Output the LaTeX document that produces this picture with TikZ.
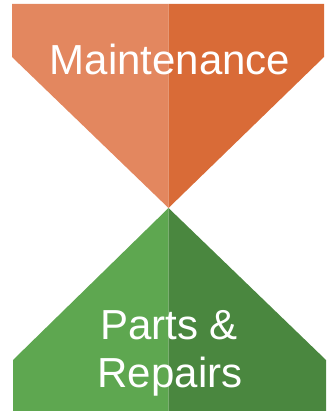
\documentclass[tikz,border=0pt]{standalone}
\usepackage{fontspec}
\setmainfont{Liberation Sans}
\definecolor{orangelight}{HTML}{E3875F}
\definecolor{orangedark}{HTML}{D96B37}
\definecolor{greenlight}{HTML}{5EA750}
\definecolor{greendark}{HTML}{4A873F}

\begin{document}
\begin{tikzpicture}[x=1pt, y=-1pt,
    word/.style={text=white, font=\fontsize{42}{48}\selectfont, anchor=base, inner sep=0pt}]
  \useasboundingbox (0,0) rectangle (327,411);
  % top funnel
  \coordinate (apex) at (168.5,208);
  \fill[orangelight] (12,4) -- (168.5,4) -- (apex) -- (12,57) -- cycle;
  \fill[orangedark] (168.5,4) -- (324,4) -- (324,57) -- (apex) -- cycle;
  % bottom funnel
  \fill[greenlight] (apex) -- (168.5,411) -- (13,411) -- (13,360) -- cycle;
  \fill[greendark] (apex) -- (326,360) -- (326,411) -- (168.5,411) -- cycle;

  \node[word] (maint) at (170,75) {Maintenance};
  \node[word] (parts) at (169,339) {Parts \&};
  \node[word] (repairs) at (170,387) {Repairs};
\end{tikzpicture}
\end{document}
